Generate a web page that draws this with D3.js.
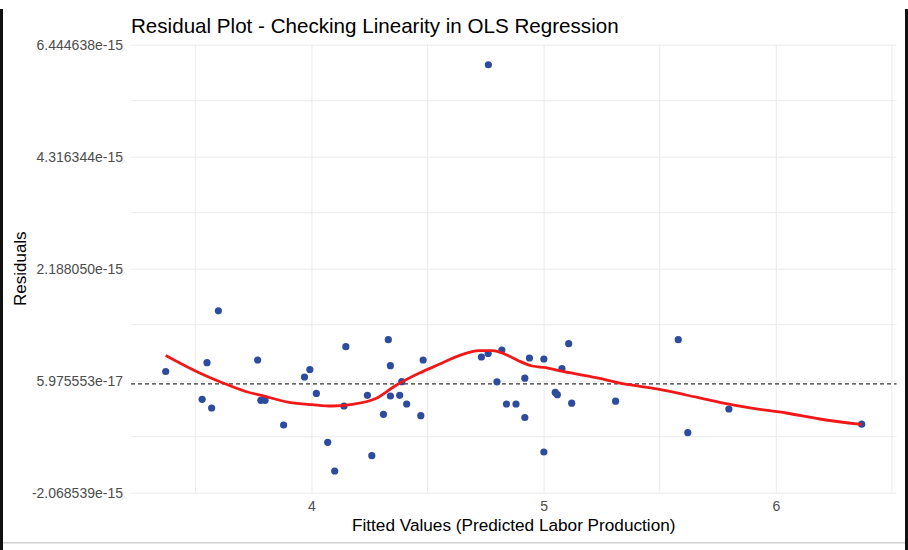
<!DOCTYPE html>
<html>
<head>
<meta charset="utf-8">
<script src="https://cdn.jsdelivr.net/npm/d3@7"></script>
<style>
  body { margin: 0; background: #fff; }
  svg { display: block; font-family: "Liberation Sans", Arial, sans-serif; }
</style>
</head>
<body>
<script>
// fitted values and residuals (residuals in units of 1e-15)
var fitted = [3.372, 3.599, 3.550, 3.529, 3.570, 3.768, 3.782, 3.800, 3.880, 3.970,
              3.993, 4.021, 4.070, 4.100, 4.148, 4.140, 4.241, 4.260, 4.310, 4.331,
              4.340, 4.340, 4.389, 4.380, 4.410, 4.471, 4.481, 4.732, 4.761, 4.820,
              4.799, 4.840, 4.881, 4.919, 4.919, 4.939, 5.001, 5.001, 5.050, 5.059,
              5.079, 5.108, 5.121, 5.310, 5.580, 5.621, 5.798, 6.370, 4.762];
var residuals = [0.235, 1.388, 0.402, -0.294, -0.459, 0.453, -0.313, -0.313, -0.782, 0.130,
                 0.273, -0.183, -1.111, -1.656, 0.706, -0.421, -0.218, -1.365, -0.579, 0.839,
                 0.345, -0.231, 0.041, -0.218, -0.383, -0.605, 0.453, 0.510, 0.577, 0.643,
                 0.039, -0.383, -0.383, -0.640, 0.107, 0.491, 0.472, -1.295, -0.164, -0.206,
                 0.292, 0.763, -0.368, -0.330, 0.839, -0.928, -0.478, -0.767, 6.064];

// smoothed (loess) curve
var smoothX = [3.372, 3.516, 3.616, 3.717, 3.789, 3.904, 4.004, 4.090, 4.176, 4.277,
               4.363, 4.463, 4.550, 4.636, 4.722, 4.779, 4.837, 4.894, 4.951, 5.009,
               5.066, 5.226, 5.341, 5.500, 5.614, 5.758, 5.902, 6.045, 6.189, 6.370];
var smoothY = [0.539, 0.212, 0.022, -0.145, -0.225, -0.351, -0.396, -0.421, -0.388, -0.278,
               -0.031, 0.200, 0.371, 0.535, 0.630, 0.630, 0.558, 0.434, 0.339, 0.307,
               0.250, 0.117, 0.003, -0.104, -0.212, -0.351, -0.465, -0.554, -0.668, -0.772];

var yTicks = [-2.068539e-15, 5.975553e-17, 2.188050e-15, 4.316344e-15, 6.444638e-15];
var yTickLabels = ["-2.068539e-15", "5.975553e-17", "2.188050e-15", "4.316344e-15", "6.444638e-15"];
var xTicks = [4, 5, 6];
var xMinor = [3.5, 4.5, 5.5, 6.5];

var width = 908, height = 550;
var margin = {left: 131, right: 11.5, top: 44.7, bottom: 57.3};
var grid_color = "#ebebeb";

var svg = d3.select("body").append("svg")
            .attr("width", width).attr("height", height);

var x = d3.scaleLinear().domain([3.2226, 6.52])
          .range([margin.left, width - margin.right]);
var y = d3.scaleLinear().domain([yTicks[0], yTicks[yTicks.length - 1]])
          .range([height - margin.bottom, margin.top]);

// minor y gridlines halfway between the labelled ones
var yMinor = [];
for (var i = 0; i < yTicks.length - 1; i++) yMinor.push((yTicks[i] + yTicks[i + 1]) / 2);

var grid = svg.append("g").attr("class", "grid");
grid.selectAll("line.ymin").data(yMinor).enter().append("line")
    .attr("x1", x.range()[0]).attr("x2", x.range()[1])
    .attr("y1", function(d) { return y(d); }).attr("y2", function(d) { return y(d); })
    .attr("stroke", grid_color).attr("stroke-width", 1);
grid.selectAll("line.xmin").data(xMinor).enter().append("line")
    .attr("y1", y.range()[0]).attr("y2", y.range()[1])
    .attr("x1", function(d) { return x(d); }).attr("x2", function(d) { return x(d); })
    .attr("stroke", grid_color).attr("stroke-width", 1);

// axes: labels only, long ticks used as major gridlines
var yAxis = d3.axisLeft(y).tickValues(yTicks)
              .tickFormat(function(d, i) { return yTickLabels[i]; })
              .tickSize(-(x.range()[1] - x.range()[0])).tickPadding(8);
var xAxis = d3.axisBottom(x).tickValues(xTicks).tickFormat(d3.format("d"))
              .tickSize(-(y.range()[0] - y.range()[1])).tickPadding(8);

var gy = svg.append("g").attr("transform", "translate(" + margin.left + ",0)").call(yAxis);
var gx = svg.append("g").attr("transform", "translate(0," + y.range()[0] + ")").call(xAxis);
[gx, gy].forEach(function(g) {
  g.select(".domain").remove();
  g.selectAll(".tick line").attr("stroke", grid_color).attr("stroke-width", 1.1);
  g.selectAll(".tick text").attr("fill", "#4d4d4d").attr("font-size", 14)
   .attr("font-family", "'Liberation Sans', Arial, sans-serif");
});

// zero reference line
svg.append("line")
   .attr("x1", x.range()[0]).attr("x2", x.range()[1])
   .attr("y1", y(0)).attr("y2", y(0))
   .attr("stroke", "#333").attr("stroke-width", 1.1).attr("stroke-dasharray", "4,3");

// points
var pts = fitted.map(function(d, i) { return {x: d, y: residuals[i] * 1e-15}; });
svg.selectAll("circle.pt").data(pts).enter().append("circle")
   .attr("class", "pt")
   .attr("cx", function(d) { return x(d.x); })
   .attr("cy", function(d) { return y(d.y); })
   .attr("r", 3.6)
   .attr("fill", "#2e4c9e");

// smooth curve
var smooth = smoothX.map(function(d, i) { return [d, smoothY[i] * 1e-15]; });
var line = d3.line()
             .x(function(d) { return x(d[0]); })
             .y(function(d) { return y(d[1]); })
             .curve(d3.curveMonotoneX);
svg.append("path").datum(smooth)
   .attr("d", line)
   .attr("fill", "none")
   .attr("stroke", "#f01818")
   .attr("stroke-width", 2.8)
   .attr("stroke-linejoin", "round");

// titles
svg.append("text")
   .attr("x", margin.left).attr("y", 33)
   .attr("font-size", 20.6).attr("fill", "#000")
   .text("Residual Plot - Checking Linearity in OLS Regression");

svg.append("text")
   .attr("x", (x.range()[0] + x.range()[1]) / 2).attr("y", 531)
   .attr("text-anchor", "middle").attr("font-size", 17.2).attr("fill", "#000")
   .text("Fitted Values (Predicted Labor Production)");

svg.append("text")
   .attr("transform", "translate(26," + (y.range()[0] + y.range()[1]) / 2 + ") rotate(-90)")
   .attr("text-anchor", "middle").attr("font-size", 17).attr("fill", "#000")
   .text("Residuals");

// window frame visible in the screenshot
svg.append("rect").attr("x", 0).attr("y", 9).attr("width", 3).attr("height", height - 9).attr("fill", "#111");
svg.append("rect").attr("x", 905).attr("y", 9).attr("width", 3).attr("height", height - 9).attr("fill", "#111");
svg.append("rect").attr("x", 3).attr("y", 542).attr("width", 902).attr("height", 1.5).attr("fill", "#d0d0d0");
</script>
</body>
</html>
